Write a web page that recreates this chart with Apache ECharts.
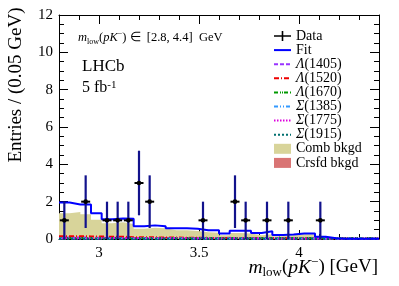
<!DOCTYPE html>
<html><head><meta charset="utf-8">
<script src="https://cdn.jsdelivr.net/npm/echarts@6/dist/echarts.min.js"></script>
<style>html,body{margin:0;padding:0;background:#fff}#c{width:399px;height:286px}</style>
</head><body><div id="c"></div>
<script>
// ---- binning (30 bins over [2.8, 4.4]) ----
const xMin = 2.8, xMax = 4.4, nBins = 30;
// ---- data (entries per bin) ----
const dataCounts = [1,0,2,0,1,1,1,3,2,0,0,0,0,1,0,0,2,1,0,1,0,1,0,0,1,0,0,0,0,0];
const dataErr    = [1,0,1.41,0,1,1,1,1.73,1.41,0,0,0,0,1,0,0,1.41,1,0,1,0,1,0,0,1,0,0,0,0,0];
// ---- fit components (per bin) ----
const fitValues = [1.95,1.85,1.85,1.38,1.06,1.1,1.08,0.68,0.73,0.68,0.57,0.57,0.55,0.47,0.47,0.3,0.44,0.44,0.32,0.42,0.22,0.24,0.3,0.3,0.12,0.04,0.02,0.02,0.02,0.02];
const combBkgd  = [1.38,1.45,1.33,1.03,0.84,0.9,0.8,0.55,0.6,0.57,0.47,0.47,0.43,0.36,0.33,0.2,0.32,0.3,0.2,0.26,0.15,0.2,0.26,0.26,0.08,0.02,0,0,0,0];
const crsfdBkgd = [0.1,0.1,0.08,0.06,0.05,0.05,0.04,0.03,0.03,0.03,0.03,0.03,0.05,0.05,0.08,0.12,0.04,0.03,0.03,0.05,0.08,0.1,0.03,0.02,0.02,0.01,0,0,0,0];
const lambda1405 = [0.08,0.08,0.07,0.07,0.07,0.06,0.06,0.06,0.05,0.05,0.05,0.05,0.04,0.04,0.04,0.04,0.04,0.03,0.03,0.03,0.03,0.03,0.03,0.03,0.02,0.02,0.02,0.02,0.02,0.02];
const lambda1520 = [0.15,0.15,0.14,0.13,0.12,0.12,0.1,0.1,0.09,0.08,0.08,0.07,0.07,0.06,0.06,0.06,0.05,0.05,0.05,0.05,0.04,0.04,0.04,0.04,0.04,0.03,0.03,0.03,0.03,0.03];
const lambda1670 = [0.05,0.05,0.05,0.05,0.05,0.05,0.05,0.05,0.05,0.05,0.05,0.05,0.05,0.05,0.05,0.05,0.05,0.05,0.05,0.05,0.05,0.05,0.05,0.05,0.05,0.05,0.05,0.05,0.05,0.05];
const sigma1385  = [0.03,0.03,0.03,0.03,0.03,0.03,0.03,0.03,0.03,0.03,0.03,0.03,0.03,0.03,0.03,0.03,0.03,0.03,0.03,0.03,0.03,0.03,0.03,0.03,0.03,0.03,0.03,0.03,0.03,0.03];
const sigma1775  = [0.04,0.04,0.04,0.05,0.05,0.06,0.06,0.06,0.06,0.05,0.05,0.05,0.04,0.04,0.04,0.04,0.04,0.04,0.03,0.03,0.03,0.03,0.03,0.03,0.03,0.03,0.03,0.03,0.03,0.03];
const sigma1915  = [0.02,0.02,0.02,0.02,0.02,0.02,0.02,0.02,0.02,0.02,0.02,0.02,0.02,0.02,0.02,0.02,0.02,0.02,0.02,0.02,0.02,0.02,0.02,0.02,0.02,0.02,0.02,0.02,0.02,0.02];
// ---- ticks ----
const xMajorTicks = [3, 3.5, 4];
const xMinorTicks = [2.9,3.1,3.2,3.3,3.4,3.6,3.7,3.8,3.9,4.1,4.2,4.3];
const yMin = 0, yMax = 12, yStep = 2;

const FONT = "'Liberation Serif','Times New Roman',serif";
const binW = (xMax - xMin) / nBins;
const edges = Array.from({length: nBins + 1}, (_, k) => xMin + k * binW);
function stepData(vals) {
  const d = vals.map((v, k) => [edges[k], v]);
  d.push([edges[nBins], vals[nBins - 1]]);
  return d;
}
const pts = [];
dataCounts.forEach((c, k) => { if (c > 0) pts.push([edges[k] + binW / 2, c, dataErr[k]]); });

function lineSeries(name, vals, color, dash, width) {
  return {
    name, type: 'line', step: 'end', data: stepData(vals), symbol: 'none',
    lineStyle: {color, width: width || 2, type: dash}, itemStyle: {color},
    silent: true, animation: false, z: 3
  };
}

const chart = echarts.init(document.getElementById('c'), null, {renderer: 'canvas'});
const axisCommon = {min: xMin, max: xMax, splitLine: {show: false}};
chart.setOption({
  animation: false,
  backgroundColor: '#fff',
  grid: {left: 59, right: 20, top: 15, bottom: 47},
  xAxis: [
    Object.assign({type: 'value', position: 'bottom',
      axisLine: {show: true, lineStyle: {color: '#000', width: 1}},
      axisTick: {show: true, inside: true, length: 9, customValues: xMajorTicks, lineStyle: {color: '#000'}},
      axisLabel: {show: true, customValues: xMajorTicks, color: '#000', fontFamily: FONT, fontSize: 15, margin: 7}}, axisCommon),
    Object.assign({type: 'value', position: 'bottom',
      axisLine: {show: false},
      axisTick: {show: true, inside: true, length: 5, customValues: xMinorTicks, lineStyle: {color: '#000'}},
      axisLabel: {show: false}}, axisCommon),
    Object.assign({type: 'value', position: 'top',
      axisLine: {show: true, lineStyle: {color: '#000', width: 1}},
      axisTick: {show: true, inside: true, length: 9, customValues: xMajorTicks, lineStyle: {color: '#000'}},
      axisLabel: {show: false}}, axisCommon),
    Object.assign({type: 'value', position: 'top',
      axisLine: {show: false},
      axisTick: {show: true, inside: true, length: 5, customValues: xMinorTicks, lineStyle: {color: '#000'}},
      axisLabel: {show: false}}, axisCommon)
  ],
  yAxis: [
    {type: 'value', position: 'left', min: yMin, max: yMax, interval: yStep,
      axisLine: {show: true, lineStyle: {color: '#000'}},
      axisTick: {show: true, inside: true, length: 9, lineStyle: {color: '#000'}},
      minorTick: {show: true, splitNumber: 4, length: 5, lineStyle: {color: '#000'}},
      axisLabel: {color: '#000', fontFamily: FONT, fontSize: 15, margin: 6},
      splitLine: {show: false}},
    {type: 'value', position: 'right', min: yMin, max: yMax, interval: yStep,
      axisLine: {show: true, lineStyle: {color: '#000'}},
      axisTick: {show: true, inside: true, length: 9, lineStyle: {color: '#000'}},
      minorTick: {show: true, splitNumber: 4, length: 5, lineStyle: {color: '#000'}},
      axisLabel: {show: false}, splitLine: {show: false}}
  ],
  legend: {
    orient: 'vertical', left: 273, top: 29, padding: 0, itemGap: 0.1,
    itemWidth: 17, itemHeight: 10, selectedMode: false,
    itemStyle: {opacity: 0},
    textStyle: {fontFamily: FONT, fontSize: 14, color: '#000', lineHeight: 13,
      rich: {i: {fontFamily: FONT, fontSize: 14, fontStyle: 'italic', color: '#000', lineHeight: 13}}},
    formatter: n => n.replace(/^([ΛΣ])/, '{i|$1}'),
    data: [
      {name: 'Data', icon: 'path://M0,4.2H17V5.8H0Z M7.7,0H9.3V10H7.7Z', itemStyle: {opacity: 1, color: '#000'}},
      'Fit', 'Λ(1405)', 'Λ(1520)', 'Λ(1670)', 'Σ(1385)', 'Σ(1775)', 'Σ(1915)',
      {name: 'Comb bkgd', icon: 'rect', itemStyle: {opacity: 1, color: '#d8d49a'}},
      {name: 'Crsfd bkgd', icon: 'rect', itemStyle: {opacity: 1, color: '#d97474'}}
    ]
  },
  graphic: [
    {type: 'text', left: 78, top: 30, silent: true,
      style: {text: '{mi|m}{sub|low}({mi|pK}{sup|−}) ∈  [2.8, 4.4]  GeV', fill: '#000', font: '12.5px ' + FONT,
        rich: {mi: {fontStyle: 'italic', fontFamily: FONT, fontSize: 12.5, lineHeight: 16},
               sub: {fontFamily: FONT, fontSize: 8, verticalAlign: 'bottom', lineHeight: 8},
               sup: {fontFamily: FONT, fontSize: 8, verticalAlign: 'top', lineHeight: 8}}}},
    {type: 'text', left: 82, top: 58, silent: true,
      style: {text: 'LHCb', fill: '#000', font: '17px ' + FONT}},
    {type: 'text', left: 82, top: 80, silent: true,
      style: {text: '5 fb{sup|-1}', fill: '#000', font: '16px ' + FONT,
        rich: {sup: {fontFamily: FONT, fontSize: 11, verticalAlign: 'top', lineHeight: 11}}}},
    {type: 'text', x: 16, y: 85, rotation: Math.PI / 2, silent: true,
      style: {text: 'Entries / (0.05 GeV)', fill: '#000', font: '19px ' + FONT, align: 'center', verticalAlign: 'middle'}},
    {type: 'text', right: 21, top: 256, silent: true,
      style: {text: '{mi|m}{sub|low}({mi|pK}{sup|−}) [GeV]', fill: '#000', font: '19px ' + FONT,
        rich: {mi: {fontStyle: 'italic', fontFamily: FONT, fontSize: 19.5, lineHeight: 23},
               sub: {fontFamily: FONT, fontSize: 13, verticalAlign: 'bottom', lineHeight: 13},
               sup: {fontFamily: FONT, fontSize: 13, verticalAlign: 'top', lineHeight: 13}}}}
  ],
  series: [
    {name: 'Comb bkgd', type: 'line', step: 'end', data: stepData(combBkgd), symbol: 'none',
      lineStyle: {width: 0}, areaStyle: {color: '#d8d49a', opacity: 1}, itemStyle: {color: '#d8d49a'}, z: 1},
    {name: 'Crsfd bkgd', type: 'line', step: 'end', data: stepData(crsfdBkgd), symbol: 'none',
      lineStyle: {width: 0}, areaStyle: {color: '#d97474', opacity: 1}, itemStyle: {color: '#d97474'}, z: 2},
    lineSeries('Λ(1405)', lambda1405, '#9933ff', [4, 2]),
    lineSeries('Λ(1520)', lambda1520, '#ee0000', [5, 2, 1, 2]),
    lineSeries('Λ(1670)', lambda1670, '#009900', [4, 2, 1, 1, 1, 1]),
    lineSeries('Σ(1385)', sigma1385, '#3399ff', [4, 2, 1, 2, 1, 2]),
    lineSeries('Σ(1775)', sigma1775, '#dd00dd', [1.5, 1.5]),
    lineSeries('Σ(1915)', sigma1915, '#006f6f', [2, 2]),
    {name: 'Fit', type: 'line', step: 'end', data: stepData(fitValues), symbol: 'none',
      lineStyle: {color: '#0000ff', width: 2}, itemStyle: {color: '#0000ff'}, z: 4},
    {name: 'Data', type: 'custom', data: pts, itemStyle: {color: '#000'}, z: 5,
      renderItem: function (params, api) {
        const x = api.value(0), y = api.value(1), e = api.value(2);
        const c = api.coord([x, y]);
        const hi = api.coord([x, y + e]);
        const lo = api.coord([x, Math.max(y - e, 0)]);
        return {type: 'group', children: [
          {type: 'line', shape: {x1: c[0], y1: hi[1], x2: c[0], y2: lo[1]}, style: {stroke: '#12128c', lineWidth: 2.2}},
          {type: 'line', shape: {x1: c[0] - 4.5, y1: c[1], x2: c[0] + 4.5, y2: c[1]}, style: {stroke: '#000', lineWidth: 2}},
          {type: 'circle', shape: {cx: c[0], cy: c[1], r: 2.3}, style: {fill: '#000'}}
        ]};
      }}
  ]
});
</script></body></html>
